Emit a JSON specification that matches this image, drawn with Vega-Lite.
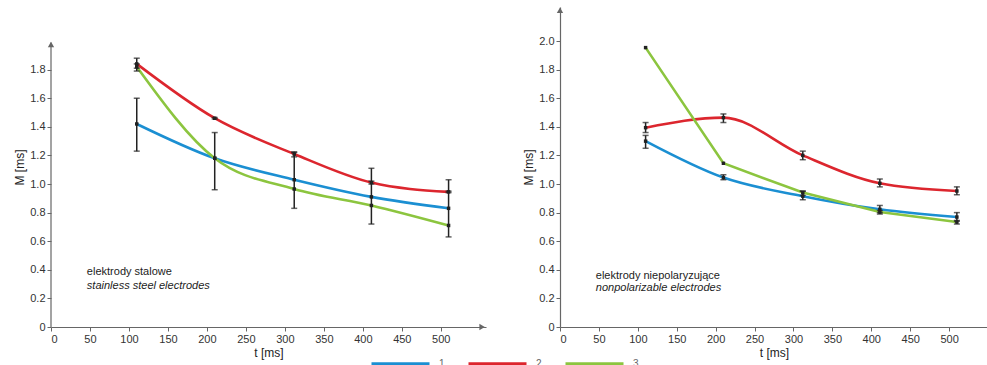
{
  "$schema": "https://vega.github.io/schema/vega-lite/v6.json",
  "autosize": {"type": "pad"},
  "padding": {"left": 13, "top": 6, "right": 0, "bottom": 10},
  "bounds": "flush",
  "spacing": 74,
  "datasets": {
    "series": [
      {"panel": "A", "series": "1", "t": 110, "M": 1.42, "lo": 1.23, "hi": 1.60},
      {"panel": "A", "series": "1", "t": 210, "M": 1.18, "lo": 0.96, "hi": 1.36},
      {"panel": "A", "series": "1", "t": 312, "M": 1.03, "lo": 0.83, "hi": 1.22},
      {"panel": "A", "series": "1", "t": 411, "M": 0.91, "lo": 0.72, "hi": 1.11},
      {"panel": "A", "series": "1", "t": 510, "M": 0.83, "lo": 0.63, "hi": 1.03},
      {"panel": "A", "series": "2", "t": 110, "M": 1.84, "lo": 1.81, "hi": 1.88},
      {"panel": "A", "series": "2", "t": 210, "M": 1.46, "lo": 1.455, "hi": 1.465},
      {"panel": "A", "series": "2", "t": 312, "M": 1.21, "lo": 1.19, "hi": 1.225},
      {"panel": "A", "series": "2", "t": 411, "M": 1.01, "lo": 1.0, "hi": 1.02},
      {"panel": "A", "series": "2", "t": 510, "M": 0.945, "lo": 0.94, "hi": 0.95},
      {"panel": "A", "series": "3", "t": 110, "M": 1.82, "lo": 1.79, "hi": 1.84},
      {"panel": "A", "series": "3", "t": 210, "M": 1.18},
      {"panel": "A", "series": "3", "t": 312, "M": 0.965},
      {"panel": "A", "series": "3", "t": 411, "M": 0.85},
      {"panel": "A", "series": "3", "t": 510, "M": 0.71},
      {"panel": "B", "series": "1", "t": 110, "M": 1.30, "lo": 1.25, "hi": 1.34},
      {"panel": "B", "series": "1", "t": 210, "M": 1.045, "lo": 1.03, "hi": 1.065},
      {"panel": "B", "series": "1", "t": 312, "M": 0.915, "lo": 0.89, "hi": 0.95},
      {"panel": "B", "series": "1", "t": 411, "M": 0.823, "lo": 0.80, "hi": 0.85},
      {"panel": "B", "series": "1", "t": 510, "M": 0.769, "lo": 0.74, "hi": 0.80},
      {"panel": "B", "series": "2", "t": 110, "M": 1.394, "lo": 1.36, "hi": 1.43},
      {"panel": "B", "series": "2", "t": 210, "M": 1.464, "lo": 1.43, "hi": 1.49},
      {"panel": "B", "series": "2", "t": 312, "M": 1.20, "lo": 1.17, "hi": 1.23},
      {"panel": "B", "series": "2", "t": 411, "M": 1.005, "lo": 0.98, "hi": 1.035},
      {"panel": "B", "series": "2", "t": 510, "M": 0.951, "lo": 0.925, "hi": 0.98},
      {"panel": "B", "series": "3", "t": 110, "M": 1.954},
      {"panel": "B", "series": "3", "t": 210, "M": 1.145},
      {"panel": "B", "series": "3", "t": 312, "M": 0.94, "lo": 0.92, "hi": 0.95},
      {"panel": "B", "series": "3", "t": 411, "M": 0.804, "lo": 0.79, "hi": 0.815},
      {"panel": "B", "series": "3", "t": 510, "M": 0.734, "lo": 0.72, "hi": 0.745}
    ],
    "notes": [
      {"panel": "A", "t": 46, "M": 0.385, "text": "elektrody stalowe", "style": "normal"},
      {"panel": "A", "t": 46, "M": 0.29, "text": "stainless steel electrodes", "style": "italic"},
      {"panel": "B", "t": 46, "M": 0.36, "text": "elektrody niepolaryzujące", "style": "normal"},
      {"panel": "B", "t": 46, "M": 0.27, "text": "nonpolarizable electrodes", "style": "italic"}
    ],
    "arrows": [
      {"panel": "A", "t": 553, "M": 0, "shape": "triangle-right"},
      {"panel": "A", "t": 0, "M": 1.975, "shape": "triangle-up"},
      {"panel": "B", "t": 0, "M": 2.215, "shape": "triangle-up"}
    ],
    "axisline": [
      {"panel": "A", "t": 0, "M0": 0, "M1": 1.99}
    ]
  },
  "resolve": {"scale": {"color": "shared", "x": "independent", "y": "independent"}, "legend": {"color": "shared"}},
  "hconcat": [
    {
      "width": 435,
      "height": 320,
      "layer": [
        {
          "data": {"name": "series"},
          "transform": [{"filter": "datum.panel === 'A'"}],
          "mark": {"type": "line", "interpolate": "monotone", "strokeWidth": 2.6},
          "encoding": {
            "x": {"field": "t", "type": "quantitative", "scale": {"domain": [0, 558], "nice": false}, "axis": {"values": [0, 50, 100, 150, 200, 250, 300, 350, 400, 450, 500], "title": "t [ms]"}},
            "y": {"field": "M", "type": "quantitative", "scale": {"domain": [0, 2.238], "nice": false}, "axis": {"tickCount": 12, "title": "M [ms]", "domain": false, "labelExpr": "datum.value > 1.85 ? '' : (datum.value === 0 ? '0' : format(datum.value, '.1f'))", "tickOpacity": {"condition": {"test": "datum.value > 1.85", "value": 0}, "value": 1}}},
            "color": {"field": "series", "type": "nominal", "scale": {"domain": ["1", "2", "3"], "range": ["#1b8fd2", "#dc262e", "#8cc53f"]}, "legend": {"orient": "none", "direction": "horizontal", "legendX": 319, "legendY": 326, "title": null, "symbolType": "stroke", "symbolSize": 3364, "symbolStrokeWidth": 3, "labelFontSize": 10, "labelColor": "#666", "columnPadding": 17, "labelOffset": 8}}
          }
        },
        {
          "data": {"name": "axisline"},
          "mark": {"type": "rule", "color": "#666", "strokeWidth": 1.2},
          "encoding": {
            "x": {"field": "t", "type": "quantitative", "title": "t [ms]"},
            "y": {"field": "M0", "type": "quantitative", "title": "M [ms]"},
            "y2": {"field": "M1"}
          }
        },
        {
          "data": {"name": "series"},
          "transform": [{"filter": "datum.panel === 'A' && isValid(datum.lo)"}],
          "mark": {"type": "errorbar", "color": "#222", "thickness": 1.5, "ticks": {"size": 6, "color": "#222", "thickness": 1.5}},
          "encoding": {
            "x": {"field": "t", "type": "quantitative", "title": "t [ms]"},
            "y": {"field": "lo", "type": "quantitative", "title": "M [ms]"},
            "y2": {"field": "hi"}
          }
        },
        {
          "data": {"name": "series"},
          "transform": [{"filter": "datum.panel === 'A'"}],
          "mark": {"type": "square", "color": "#222", "size": 12, "opacity": 1},
          "encoding": {
            "x": {"field": "t", "type": "quantitative", "title": "t [ms]"},
            "y": {"field": "M", "type": "quantitative", "title": "M [ms]"}
          }
        },
        {
          "data": {"name": "notes"},
          "transform": [{"filter": "datum.panel === 'A' && datum.style === 'normal'"}],
          "mark": {"type": "text", "align": "left", "fontSize": 11, "color": "#222", "font": "Liberation Sans"},
          "encoding": {
            "x": {"field": "t", "type": "quantitative", "title": "t [ms]"},
            "y": {"field": "M", "type": "quantitative", "title": "M [ms]"},
            "text": {"field": "text"}
          }
        },
        {
          "data": {"name": "notes"},
          "transform": [{"filter": "datum.panel === 'A' && datum.style === 'italic'"}],
          "mark": {"type": "text", "align": "left", "fontSize": 11, "color": "#222", "fontStyle": "italic", "font": "Liberation Sans"},
          "encoding": {
            "x": {"field": "t", "type": "quantitative", "title": "t [ms]"},
            "y": {"field": "M", "type": "quantitative", "title": "M [ms]"},
            "text": {"field": "text"}
          }
        },
        {
          "data": {"name": "arrows"},
          "transform": [{"filter": "datum.panel === 'A'"}],
          "mark": {"type": "point", "filled": true, "color": "#666", "size": 40, "opacity": 1},
          "encoding": {
            "x": {"field": "t", "type": "quantitative", "title": "t [ms]"},
            "y": {"field": "M", "type": "quantitative", "title": "M [ms]"},
            "shape": {"field": "shape", "type": "nominal", "scale": null, "legend": null}
          }
        }
      ]
    },
    {
      "width": 428,
      "height": 320,
      "layer": [
        {
          "data": {"name": "series"},
          "transform": [{"filter": "datum.panel === 'B' && datum.series !== '3'"}],
          "mark": {"type": "line", "interpolate": "monotone", "strokeWidth": 2.6},
          "encoding": {
            "x": {"field": "t", "type": "quantitative", "scale": {"domain": [0, 550], "nice": false}, "axis": {"values": [0, 50, 100, 150, 200, 250, 300, 350, 400, 450, 500], "title": "t [ms]"}},
            "y": {"field": "M", "type": "quantitative", "scale": {"domain": [0, 2.238], "nice": false}, "axis": {"tickCount": 12, "title": "M [ms]", "labelExpr": "datum.value > 2.05 ? '' : (datum.value === 0 ? '0' : format(datum.value, '.1f'))", "tickOpacity": {"condition": {"test": "datum.value > 2.05", "value": 0}, "value": 1}}},
            "color": {"field": "series", "type": "nominal", "scale": {"domain": ["1", "2", "3"], "range": ["#1b8fd2", "#dc262e", "#8cc53f"]}}
          }
        },
        {
          "data": {"name": "series"},
          "transform": [{"filter": "datum.panel === 'B' && datum.series === '3'"}],
          "mark": {"type": "line", "interpolate": "linear", "strokeWidth": 2.6},
          "encoding": {
            "x": {"field": "t", "type": "quantitative", "title": "t [ms]"},
            "y": {"field": "M", "type": "quantitative", "title": "M [ms]"},
            "color": {"field": "series", "type": "nominal"}
          }
        },
        {
          "data": {"name": "series"},
          "transform": [{"filter": "datum.panel === 'B' && isValid(datum.lo)"}],
          "mark": {"type": "errorbar", "color": "#222", "thickness": 1.5, "ticks": {"size": 6, "color": "#222", "thickness": 1.5}},
          "encoding": {
            "x": {"field": "t", "type": "quantitative", "title": "t [ms]"},
            "y": {"field": "lo", "type": "quantitative", "title": "M [ms]"},
            "y2": {"field": "hi"}
          }
        },
        {
          "data": {"name": "series"},
          "transform": [{"filter": "datum.panel === 'B'"}],
          "mark": {"type": "square", "color": "#222", "size": 12, "opacity": 1},
          "encoding": {
            "x": {"field": "t", "type": "quantitative", "title": "t [ms]"},
            "y": {"field": "M", "type": "quantitative", "title": "M [ms]"}
          }
        },
        {
          "data": {"name": "notes"},
          "transform": [{"filter": "datum.panel === 'B' && datum.style === 'normal'"}],
          "mark": {"type": "text", "align": "left", "fontSize": 11, "color": "#222", "font": "Liberation Sans"},
          "encoding": {
            "x": {"field": "t", "type": "quantitative", "title": "t [ms]"},
            "y": {"field": "M", "type": "quantitative", "title": "M [ms]"},
            "text": {"field": "text"}
          }
        },
        {
          "data": {"name": "notes"},
          "transform": [{"filter": "datum.panel === 'B' && datum.style === 'italic'"}],
          "mark": {"type": "text", "align": "left", "fontSize": 11, "color": "#222", "fontStyle": "italic", "font": "Liberation Sans"},
          "encoding": {
            "x": {"field": "t", "type": "quantitative", "title": "t [ms]"},
            "y": {"field": "M", "type": "quantitative", "title": "M [ms]"},
            "text": {"field": "text"}
          }
        },
        {
          "data": {"name": "arrows"},
          "transform": [{"filter": "datum.panel === 'B'"}],
          "mark": {"type": "point", "filled": true, "color": "#666", "size": 40, "opacity": 1},
          "encoding": {
            "x": {"field": "t", "type": "quantitative", "title": "t [ms]"},
            "y": {"field": "M", "type": "quantitative", "title": "M [ms]"},
            "shape": {"field": "shape", "type": "nominal", "scale": null, "legend": null}
          }
        }
      ]
    }
  ],
  "config": {
    "font": "Liberation Sans",
    "view": {"stroke": null},
    "axis": {
      "grid": false,
      "domainColor": "#666",
      "domainWidth": 1.2,
      "tickColor": "#666",
      "tickSize": 4,
      "labelColor": "#333",
      "labelFont": "Liberation Sans",
      "labelFontSize": 11,
      "labelPadding": 2,
      "labelOverlap": false,
      "titleFont": "Liberation Sans",
      "titleFontSize": 12,
      "titleFontWeight": "normal",
      "titleColor": "#222",
      "titlePadding": 3
    },
    "legend": {"labelFont": "Liberation Sans"}
  }
}
